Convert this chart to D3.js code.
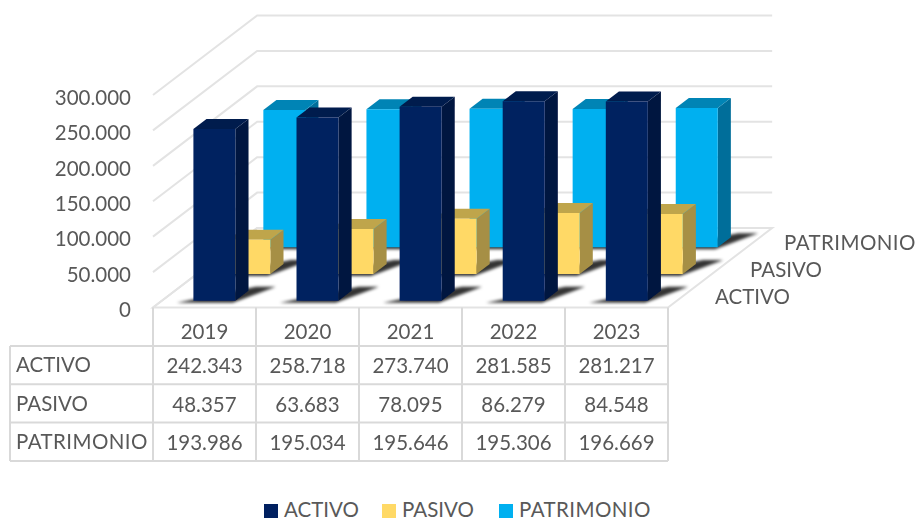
<!DOCTYPE html>
<html lang="en">
<head>
<meta charset="UTF-8">
<title>Activo Pasivo Patrimonio</title>
<style type="text/css">
html, body { margin: 0; padding: 0; background: #fff; }
svg { display: block; }
text { font-family: Lato, "Open Sans", sans-serif; fill: #595959; font-size: 20.5px; }
.grid { stroke: #e3e3e3; stroke-width: 2; fill: none; }
.table-line { stroke: #d9d9d9; stroke-width: 2; }
</style>
</head>
<body>
<script src="https://cdn.jsdelivr.net/npm/d3@7/dist/d3.min.js"></script>
<script>
var years = ['2019', '2020', '2021', '2022', '2023']
var series = ['ACTIVO', 'PASIVO', 'PATRIMONIO']
var activo = [242343, 258718, 273740, 281585, 281217]
var pasivo = [48357, 63683, 78095, 86279, 84548]
var patrimonio = [193986, 195034, 195646, 195306, 196669]
var yTicks = [0, 50000, 100000, 150000, 200000, 250000, 300000]
var values = [activo, pasivo, patrimonio]

var faceColors = ['#002060', '#FFD966', '#00B0F0']
var topColors = ['#001A4D', '#BFA54C', '#0084B5']
var sideColors = ['#00143F', '#A68F45', '#006E9A']

var width = 915, height = 521
var left = 153, right = 668, floorY = 307.5
var depthY = 79.5, depthRatio = 1.31

var fmt = d3.formatLocale({decimal: ',', thousands: '.', grouping: [3], currency: ['', '']}).format(',d')

var x = d3.scaleBand().domain(years).range([184.5, 638.9]).paddingInner(0.5926)
var slot = d3.scaleBand().domain(years).range([left, right])
var z = d3.scaleBand().domain(series).range([6.8, 70.2]).paddingInner(0.625)
var y = d3.scaleLinear().domain([0, 300000]).range([0, 212.5])

// oblique projection: px across, d back into the chart, h up
function pt(px, d, h) {
	return [px + d * depthRatio, floorY - d - h]
}
function poly(pts) {
	return pts.map(function (p) { return p.join(',') }).join(' ')
}
// wider tracking on the long label, as in the picture
function track(s) {
	return s === 'PATRIMONIO' ? '0.42px' : null
}

var svg = d3.select('body').append('svg').attr('width', width).attr('height', height)

var defs = svg.append('defs')
defs.append('filter').attr('id', 'soft').attr('x', '-10%').attr('y', '-10%').attr('width', '120%').attr('height', '120%')
	.append('feGaussianBlur').attr('stdDeviation', 0.45)
defs.append('filter').attr('id', 'shadow').attr('x', '-30%').attr('y', '-50%').attr('width', '160%').attr('height', '200%')
	.append('feGaussianBlur').attr('stdDeviation', 1.6)

var chart = svg.append('g').attr('filter', 'url(#soft)')

// walls and floor
yTicks.forEach(function (t) {
	var a = pt(left, 0, y(t)), b = pt(left, depthY, y(t)), c = pt(right, depthY, y(t))
	chart.append('polyline').attr('class', 'grid').attr('points', poly([a, b, c]))
})
chart.append('polygon').attr('class', 'grid')
	.attr('points', poly([pt(left, 0, 0), pt(right, 0, 0), pt(right, depthY, 0), pt(left, depthY, 0)]))

// bars, back row first
d3.range(series.length - 1, -1, -1).forEach(function (si) {
	var row = chart.append('g').attr('class', 'row')
	var d0 = z(series[si]), d1 = d0 + z.bandwidth()

	row.selectAll('.shadow').data(years).enter().append('polygon')
		.attr('class', 'shadow')
		.attr('filter', 'url(#shadow)')
		.attr('fill', '#000')
		.attr('fill-opacity', 0.8)
		.attr('points', function (yr) {
			var x0 = x(yr), x1 = x0 + x.bandwidth()
			return poly([pt(x0 - 14, d0 - 2, 0), pt(x1, d0 - 2, 0), pt(x1 + 22, d1 + 4, 0), pt(x1 + 2, d1 + 4, 0)])
		})

	var bar = row.selectAll('.bar').data(years).enter().append('g').attr('class', 'bar')
	bar.each(function (yr, i) {
		var x0 = x(yr), x1 = x0 + x.bandwidth(), h = y(values[si][i])
		var g = d3.select(this)
		g.append('polygon').attr('fill', sideColors[si])
			.attr('points', poly([pt(x1, d0, 0), pt(x1, d1, 0), pt(x1, d1, h), pt(x1, d0, h)]))
		g.append('polygon').attr('fill', topColors[si])
			.attr('points', poly([pt(x0, d0, h), pt(x1, d0, h), pt(x1, d1, h), pt(x0, d1, h)]))
		g.append('polygon').attr('fill', faceColors[si])
			.attr('points', poly([pt(x0, d0, 0), pt(x1, d0, 0), pt(x1, d0, h), pt(x0, d0, h)]))
	})
})

var labels = svg.append('g').attr('filter', 'url(#soft)')

// value axis
labels.selectAll('.y-tick').data(yTicks).enter().append('text')
	.attr('class', 'y-tick')
	.attr('x', 131)
	.attr('y', function (t) { return floorY + 2.5 - y(t) })
	.attr('dy', '0.35em')
	.attr('text-anchor', 'end')
	.text(fmt)

// depth axis
var depthLabelX = [715, 750, 784]
var depthLabelY = [297, 270, 243]
labels.selectAll('.z-label').data(series).enter().append('text')
	.attr('class', 'z-label')
	.attr('x', function (d, i) { return depthLabelX[i] })
	.attr('y', function (d, i) { return depthLabelY[i] })
	.attr('dy', '0.35em')
	.style('letter-spacing', track)
	.text(function (d) { return d })

// data table
var tableX = 10, rowH = 38.3, headBottom = 346
var table = svg.append('g').attr('filter', 'url(#soft)')
slot.domain().concat(['end']).forEach(function (yr, i) {
	var px = yr === 'end' ? right : slot(yr)
	table.append('line').attr('class', 'table-line')
		.attr('x1', px).attr('x2', px).attr('y1', floorY).attr('y2', headBottom + rowH * 3)
})
table.append('line').attr('class', 'table-line')
	.attr('x1', tableX).attr('x2', tableX).attr('y1', headBottom).attr('y2', headBottom + rowH * 3)
d3.range(4).forEach(function (i) {
	table.append('line').attr('class', 'table-line')
		.attr('x1', tableX).attr('x2', right)
		.attr('y1', headBottom + rowH * i).attr('y2', headBottom + rowH * i)
})
table.selectAll('.head').data(years).enter().append('text')
	.attr('class', 'head')
	.attr('x', function (d) { return slot(d) + slot.bandwidth() / 2 })
	.attr('y', 332)
	.attr('dy', '0.35em')
	.attr('text-anchor', 'middle')
	.text(function (d) { return d })
series.forEach(function (s, si) {
	var cy = headBottom + rowH * si + rowH / 2
	table.append('text').attr('x', 16).attr('y', cy).attr('dy', '0.35em').style('letter-spacing', track(s)).text(s)
	table.selectAll('.cell' + si).data(values[si]).enter().append('text')
		.attr('class', 'cell' + si)
		.attr('x', function (d, i) { return slot(years[i]) + slot.bandwidth() / 2 })
		.attr('y', cy + 1)
		.attr('dy', '0.35em')
		.attr('text-anchor', 'middle')
		.text(fmt)
})

// legend
var legendX = [264, 382, 499]
var legend = svg.append('g')
series.forEach(function (s, i) {
	legend.append('rect').attr('x', legendX[i]).attr('y', 504).attr('width', 14).attr('height', 14).attr('fill', faceColors[i])
	legend.append('text').attr('x', legendX[i] + 20).attr('y', 510).attr('dy', '0.35em').style('letter-spacing', track(s)).text(s)
})
</script>
</body>
</html>
